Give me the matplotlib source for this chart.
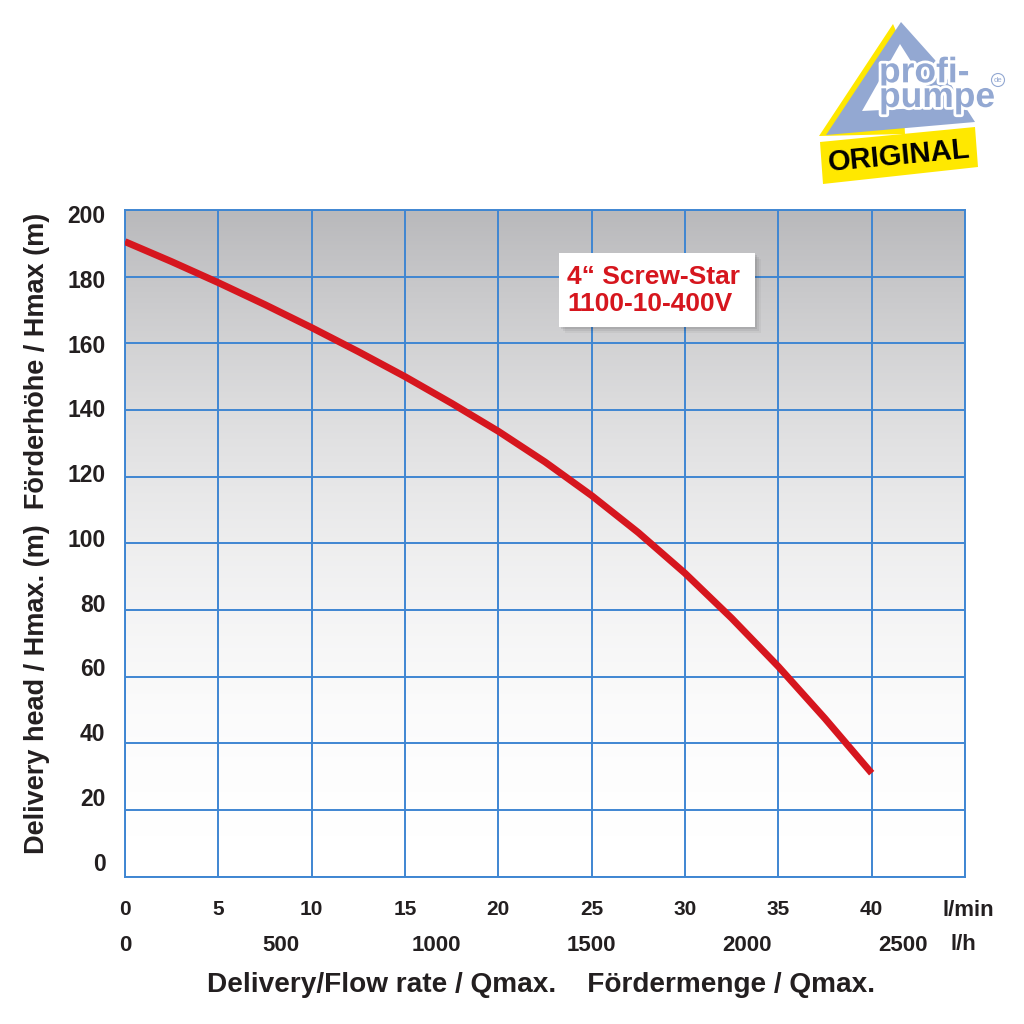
import numpy as np
import matplotlib
matplotlib.use("Agg")
from matplotlib import pyplot as plt
from matplotlib.patches import Polygon, Rectangle, Circle
from matplotlib.colors import LinearSegmentedColormap
import matplotlib.patheffects as pe
from matplotlib.transforms import ScaledTranslation

plt.rcParams['font.family'] = ['Liberation Sans', 'DejaVu Sans']

# pump curve (flow l/min, head m)
flow = [0, 2.5, 5, 7.5, 10, 12.5, 15, 17.5, 20, 22.5, 25, 27.5, 30, 32.5, 35, 37.5, 40]
head = [190.5, 184.5, 178.2, 171.6, 164.7, 157.5, 150.0, 142.0, 133.6, 124.4, 114.3, 103.2, 91.0, 77.5, 63.0, 47.4, 31.0]

lmin_ticks = [0, 5, 10, 15, 20, 25, 30, 35, 40]
lh_ticks = [0, 500, 1000, 1500, 2000, 2500]
head_ticks = [0, 20, 40, 60, 80, 100, 120, 140, 160, 180, 200]

GRID = '#3f86d2'
RED = '#d6161e'
LOGO_BLUE = '#93a8d2'
YELLOW = '#ffe800'
TXT = '#231f20'

W = 1024.0
def fx(x):
    return x / W
def fy(y):
    return 1 - y / W

fig = plt.figure(figsize=(10.24, 10.24), dpi=100)
ax = fig.add_axes([fx(125), fy(876.5), fx(965) - fx(125), fy(210) - fy(876.5)])

# grey (top) to white (bottom) background
cmap = LinearSegmentedColormap.from_list('bg', [(1, 1, 1), (0.725, 0.725, 0.735)])
grad = np.linspace(0, 1, 256).reshape(-1, 1) ** 2
ax.imshow(grad, extent=[0, 45, 0, 200], origin='lower', aspect='auto', cmap=cmap,
          vmin=0, vmax=1, zorder=0)

ax.set_xlim(0, 45)
ax.set_ylim(0, 200)
ax.set_xticks(np.arange(0, 46, 5))
ax.set_yticks(head_ticks)
ax.grid(True, color=GRID, lw=1.4, zorder=1)
ax.set_axisbelow(False)
for s in ax.spines.values():
    s.set_color(GRID)
    s.set_linewidth(1.4)
ax.tick_params(length=0)
ax.set_xticklabels([])
ax.set_yticklabels([str(v) for v in head_ticks], fontsize=16.5, fontweight='bold', color=TXT)
ax.tick_params(axis='y', pad=14)
# labels in the original sit on a slightly tighter pitch than the grid
for v, lab in zip(head_ticks, ax.get_yticklabels()):
    off = 4 - 0.0935 * (200 - v)
    lab.set_transform(lab.get_transform() + ScaledTranslation(0, -off / 100, fig.dpi_scale_trans))

ax.plot(flow, head, color=RED, lw=5, solid_capstyle='butt', solid_joinstyle='round', zorder=3)

# bottom scales
for v in lmin_ticks:
    ax.text(v, -0.05, str(v), transform=ax.get_xaxis_transform(), ha='center', va='center',
            fontsize=15, fontweight='bold', color=TXT)
for v in lh_ticks:
    ax.text(v / 60.0, -0.103, str(v), transform=ax.get_xaxis_transform(), ha='center', va='center',
            fontsize=16, fontweight='bold', color=TXT)
fig.text(fx(942), fy(910), 'l/min', ha='left', va='center', fontsize=16, fontweight='bold', color=TXT)
fig.text(fx(951), fy(945), 'l/h', ha='left', va='center', fontsize=16, fontweight='bold', color=TXT)
fig.text(fx(541), fy(985), 'Delivery/Flow rate / Qmax.    Fördermenge / Qmax.', ha='center', va='center',
         fontsize=20.2, fontweight='bold', color=TXT)
fig.text(fx(37), fy(533), 'Delivery head / Hmax. (m)  Förderhöhe / Hmax (m)', rotation=90,
         ha='center', va='center', fontsize=19.5, fontweight='bold', color=TXT)

# model label box with shadow
for i, a in enumerate([0.04, 0.06, 0.08]):
    d = 6 - i * 1.8
    fig.patches.append(Rectangle((fx(559 + d), fy(327 + d)), fx(196), fx(74), transform=fig.transFigure,
                                 facecolor='black', alpha=a, edgecolor='none', zorder=4))
fig.patches.append(Rectangle((fx(559), fy(327)), fx(196), fx(74), transform=fig.transFigure,
                             facecolor='white', edgecolor='none', zorder=5))
fig.text(fx(567), fy(277), '4\u201c Screw-Star', ha='left', va='center', fontsize=19,
         fontweight='bold', color=RED, zorder=6)
fig.text(fx(567), fy(304), '1100-10-400V', ha='left', va='center', fontsize=19,
         fontweight='bold', color=RED, zorder=6)

# logo
def poly(pts, color, z):
    fig.patches.append(Polygon([(fx(x), fy(y)) for x, y in pts], closed=True, transform=fig.transFigure,
                               facecolor=color, edgecolor='none', zorder=z))

poly([(893, 24), (819, 136), (905, 134), (900, 40)], YELLOW, 1)
poly([(901, 22), (826, 135), (975, 122), (935, 60)], LOGO_BLUE, 2)
poly([(900, 44), (862, 111), (940, 107)], 'white', 3)
stroke = [pe.withStroke(linewidth=4, foreground='white')]
fig.text(fx(879), fy(107), 'profi-\npumpe', ha='left', va='baseline', multialignment='left',
         linespacing=0.68, fontsize=25.5, fontweight='bold', color=LOGO_BLUE,
         path_effects=stroke, zorder=4)
fig.patches.append(Circle((fx(998), fy(80)), fx(6.5), transform=fig.transFigure, facecolor='white',
                          edgecolor=LOGO_BLUE, lw=0.8, zorder=6))
fig.text(fx(998), fy(80.5), 'de', ha='center', va='center', fontsize=5.5, color=LOGO_BLUE, zorder=7)
poly([(820, 142), (975, 127), (978, 167), (823, 184)], YELLOW, 6)
fig.text(fx(899), fy(156), 'ORIGINAL', ha='center', va='center', fontsize=21, fontweight='bold',
         rotation=5.5, color='black', zorder=7)

fig.savefig('out.png', dpi=100)
